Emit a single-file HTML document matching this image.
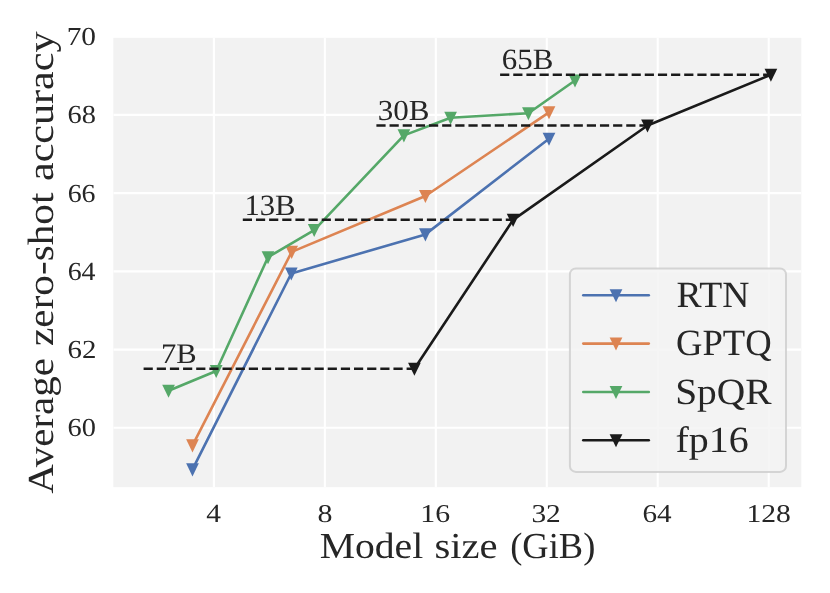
<!DOCTYPE html>
<html><head><meta charset="utf-8"><title>Average zero-shot accuracy vs model size</title>
<style>
html,body{margin:0;padding:0;background:#ffffff;}
body{width:830px;height:593px;overflow:hidden;font-family:"Liberation Serif",serif;}
svg{display:block;will-change:transform;}
text{font-family:"Liberation Serif",serif;text-rendering:geometricPrecision;}
</style></head><body>
<svg width="830" height="593" viewBox="0 0 830 593">
<defs><clipPath id="pc"><rect x="113.30" y="37.80" width="688.00" height="449.40"/></clipPath></defs>
<rect width="830" height="593" fill="#ffffff"/>
<rect x="113.30" y="37.80" width="688.00" height="449.40" fill="#f2f2f2"/>
<g clip-path="url(#pc)" stroke="#ffffff" stroke-width="2.1">
<line x1="213.90" y1="37.80" x2="213.90" y2="487.20"/>
<line x1="324.86" y1="37.80" x2="324.86" y2="487.20"/>
<line x1="435.82" y1="37.80" x2="435.82" y2="487.20"/>
<line x1="546.78" y1="37.80" x2="546.78" y2="487.20"/>
<line x1="657.74" y1="37.80" x2="657.74" y2="487.20"/>
<line x1="768.70" y1="37.80" x2="768.70" y2="487.20"/>
<line x1="113.30" y1="36.68" x2="801.30" y2="36.68"/>
<line x1="113.30" y1="114.90" x2="801.30" y2="114.90"/>
<line x1="113.30" y1="193.10" x2="801.30" y2="193.10"/>
<line x1="113.30" y1="271.35" x2="801.30" y2="271.35"/>
<line x1="113.30" y1="349.60" x2="801.30" y2="349.60"/>
<line x1="113.30" y1="427.80" x2="801.30" y2="427.80"/>
</g>
<g clip-path="url(#pc)">
<polyline fill="none" stroke="#4c72b0" stroke-width="2.60" stroke-linejoin="round" stroke-linecap="butt" points="192.50,469.40 291.30,273.50 425.40,234.40 549.00,138.70"/>
<path fill="#4c72b0" d="M186.15 463.35L198.85 463.35L192.50 476.40Z"/>
<path fill="#4c72b0" d="M284.95 267.45L297.65 267.45L291.30 280.50Z"/>
<path fill="#4c72b0" d="M419.05 228.35L431.75 228.35L425.40 241.40Z"/>
<path fill="#4c72b0" d="M542.65 132.65L555.35 132.65L549.00 145.70Z"/>
<polyline fill="none" stroke="#dd8452" stroke-width="2.60" stroke-linejoin="round" stroke-linecap="butt" points="192.50,445.40 291.70,251.90 425.40,196.00 549.00,112.30"/>
<path fill="#dd8452" d="M186.15 439.35L198.85 439.35L192.50 452.40Z"/>
<path fill="#dd8452" d="M285.35 245.85L298.05 245.85L291.70 258.90Z"/>
<path fill="#dd8452" d="M419.05 189.95L431.75 189.95L425.40 203.00Z"/>
<path fill="#dd8452" d="M542.65 106.25L555.35 106.25L549.00 119.30Z"/>
<polyline fill="none" stroke="#55a868" stroke-width="2.60" stroke-linejoin="round" stroke-linecap="butt" points="168.55,390.70 216.20,371.00 268.00,257.20 314.20,230.10 403.90,135.40 450.60,117.80 528.40,113.20 575.00,80.50"/>
<path fill="#55a868" d="M162.20 384.65L174.90 384.65L168.55 397.70Z"/>
<path fill="#55a868" d="M209.85 364.95L222.55 364.95L216.20 378.00Z"/>
<path fill="#55a868" d="M261.65 251.15L274.35 251.15L268.00 264.20Z"/>
<path fill="#55a868" d="M307.85 224.05L320.55 224.05L314.20 237.10Z"/>
<path fill="#55a868" d="M397.55 129.35L410.25 129.35L403.90 142.40Z"/>
<path fill="#55a868" d="M444.25 111.75L456.95 111.75L450.60 124.80Z"/>
<path fill="#55a868" d="M522.05 107.15L534.75 107.15L528.40 120.20Z"/>
<path fill="#55a868" d="M568.65 74.45L581.35 74.45L575.00 87.50Z"/>
<polyline fill="none" stroke="#1a1a1a" stroke-width="2.60" stroke-linejoin="round" stroke-linecap="butt" points="414.40,368.70 513.10,219.90 647.50,125.50 770.90,74.70"/>
<path fill="#1a1a1a" d="M408.05 362.65L420.75 362.65L414.40 375.70Z"/>
<path fill="#1a1a1a" d="M506.75 213.85L519.45 213.85L513.10 226.90Z"/>
<path fill="#1a1a1a" d="M641.15 119.45L653.85 119.45L647.50 132.50Z"/>
<path fill="#1a1a1a" d="M764.55 68.65L777.25 68.65L770.90 81.70Z"/>
<line x1="143.60" y1="368.65" x2="414.40" y2="368.65" stroke="#1a1a1a" stroke-width="2.5" stroke-dasharray="9.2 3.95"/>
<line x1="242.80" y1="219.85" x2="513.10" y2="219.85" stroke="#1a1a1a" stroke-width="2.5" stroke-dasharray="9.2 3.95"/>
<line x1="376.40" y1="125.40" x2="647.50" y2="125.40" stroke="#1a1a1a" stroke-width="2.5" stroke-dasharray="9.2 3.95"/>
<line x1="500.10" y1="74.65" x2="770.90" y2="74.65" stroke="#1a1a1a" stroke-width="2.5" stroke-dasharray="9.2 3.95"/>
</g>
<g font-family="'Liberation Serif', serif" fill="#262626">
<text transform="translate(66.67 45.22) scale(1.1273 1)" font-size="26.04">70</text>
<text transform="translate(67.61 123.44) scale(1.0898 1)" font-size="26.04">68</text>
<text transform="translate(67.63 201.64) scale(1.0719 1)" font-size="26.04">66</text>
<text transform="translate(67.63 279.89) scale(1.0719 1)" font-size="26.04">64</text>
<text transform="translate(67.60 358.14) scale(1.1082 1)" font-size="26.04">62</text>
<text transform="translate(67.61 436.34) scale(1.0898 1)" font-size="26.04">60</text>
<text transform="translate(206.14 522.30) scale(1.1175 1)" font-size="26.34">4</text>
<text transform="translate(317.46 521.90) scale(1.1630 1)" font-size="25.75">8</text>
<text transform="translate(420.27 521.90) scale(1.1572 1)" font-size="25.75">16</text>
<text transform="translate(531.42 521.90) scale(1.1401 1)" font-size="25.75">32</text>
<text transform="translate(642.49 521.90) scale(1.1329 1)" font-size="25.75">64</text>
<text transform="translate(746.49 521.90) scale(1.1508 1)" font-size="25.75">128</text>
<text transform="translate(160.99 362.61) scale(1.0788 1)" font-size="28.35">7B</text>
<text transform="translate(244.40 214.74) scale(1.0425 1)" font-size="29.45">13B</text>
<text transform="translate(377.74 120.05) scale(1.0684 1)" font-size="29.09">30B</text>
<text transform="translate(501.68 69.24) scale(1.0513 1)" font-size="29.45">65B</text>
<text transform="translate(319.68 558.00) scale(1.0813 1)" font-size="36.70">Model</text>
<text transform="translate(434.43 558.00) scale(1.1070 1)" font-size="36.70">size</text>
<text transform="translate(510.16 558.00) scale(0.9946 1)" font-size="36.70">(GiB)</text>
<text transform="translate(53 493.80) rotate(-90) scale(1.1162 1)" font-size="36.70">Average</text>
<text transform="translate(53 345.94) rotate(-90) scale(1.1234 1)" font-size="36.70">zero-shot</text>
<text transform="translate(53 181.02) rotate(-90) scale(1.1477 1)" font-size="36.70">accuracy</text>
</g>
<rect x="569.90" y="268.40" width="216.10" height="203.50" rx="6" ry="6" fill="#f2f2f2" fill-opacity="0.8" stroke="#cccccc" stroke-opacity="0.8" stroke-width="2"/>
<g font-family="'Liberation Serif', serif" fill="#262626">
<line x1="583.3" y1="295.30" x2="648.8" y2="295.30" stroke="#4c72b0" stroke-width="2.60" stroke-linecap="round"/>
<path fill="#4c72b0" d="M609.65 289.25L622.35 289.25L616.00 302.30Z"/>
<text transform="translate(676.51 307.00) scale(1.0198 1)" font-size="36.90">RTN</text>
<line x1="583.3" y1="343.60" x2="648.8" y2="343.60" stroke="#dd8452" stroke-width="2.60" stroke-linecap="round"/>
<path fill="#dd8452" d="M609.65 337.55L622.35 337.55L616.00 350.60Z"/>
<text transform="translate(675.96 355.00) scale(0.9929 1)" font-size="36.90">GPTQ</text>
<line x1="583.3" y1="391.95" x2="648.8" y2="391.95" stroke="#55a868" stroke-width="2.60" stroke-linecap="round"/>
<path fill="#55a868" d="M609.65 385.90L622.35 385.90L616.00 398.95Z"/>
<text transform="translate(675.13 404.00) scale(1.0692 1)" font-size="36.90">SpQR</text>
<line x1="583.3" y1="440.30" x2="648.8" y2="440.30" stroke="#1a1a1a" stroke-width="2.60" stroke-linecap="round"/>
<path fill="#1a1a1a" d="M609.65 434.25L622.35 434.25L616.00 447.30Z"/>
<text transform="translate(675.43 452.00) scale(1.0837 1)" font-size="36.90">fp16</text>
</g>
</svg>
</body></html>
